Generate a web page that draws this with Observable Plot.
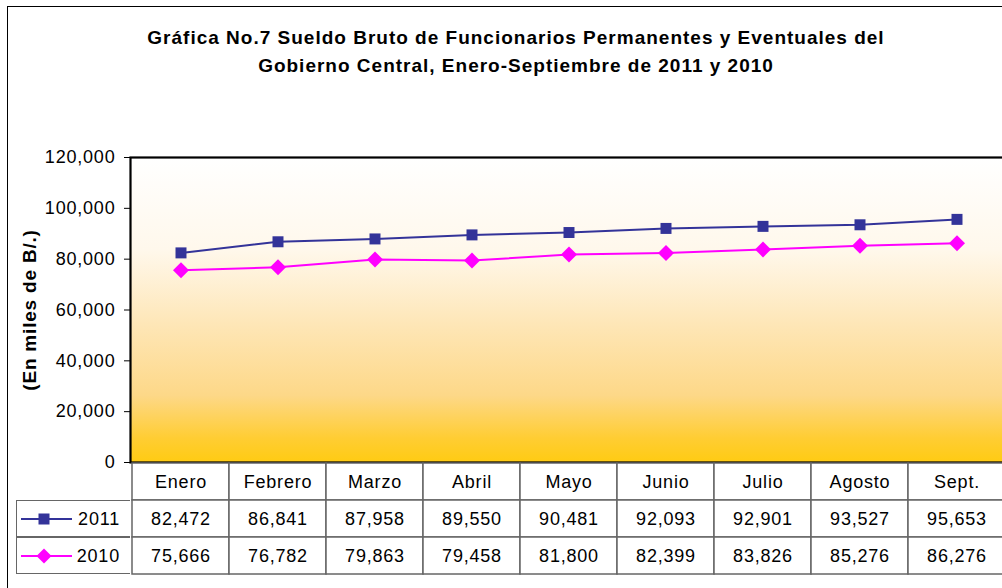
<!DOCTYPE html>
<html><head><meta charset="utf-8">
<script src="https://cdn.jsdelivr.net/npm/d3@7"></script>
<script src="https://cdn.jsdelivr.net/npm/@observablehq/plot@0.6"></script>
<style>
html,body{margin:0;padding:0;background:#fff;overflow:hidden;width:1002px;height:588px}
body{font-family:"Liberation Sans",Arial,sans-serif;position:relative;color:#000}
#frame{position:absolute;left:7px;top:6px;width:1100px;height:700px;border:1.5px solid #000;box-sizing:border-box}
#title{position:absolute;left:0;width:1032px;top:24px;text-align:center;font-weight:bold;font-size:19px;letter-spacing:1px;line-height:28px}
#ylabel{position:absolute;left:30px;top:310px;transform:translate(-50%,-50%) rotate(-90deg);font-weight:bold;font-size:19px;letter-spacing:0.8px;white-space:nowrap}
#chart{position:absolute;left:0;top:0}
#table{position:absolute;left:0;top:462px}
.leg{position:absolute;left:16px;width:114px;box-sizing:border-box;border:1.5px solid #666;border-right:none;background:#fff}
.leg svg{position:absolute;left:3px;top:50%;transform:translateY(-50%)}
.leg span{position:absolute;right:10px;top:50%;transform:translateY(-50%);font-size:18px;letter-spacing:0.8px}
svg text{letter-spacing:0.8px}
</style></head>
<body>
<div id="frame"></div>
<div id="title">Gráfica No.7 Sueldo Bruto de Funcionarios Permanentes y Eventuales del<br>Gobierno Central, Enero-Septiembre de 2011 y 2010</div>
<div id="ylabel">(En miles de B/.)</div>
<div id="chart"></div>
<div id="table"></div>
<script>
const months = ["Enero","Febrero","Marzo","Abril","Mayo","Junio","Julio","Agosto","Sept."];
const values2011 = [82472, 86841, 87958, 89550, 90481, 92093, 92901, 93527, 95653];
const values2010 = [75666, 76782, 79863, 79458, 81800, 82399, 83826, 85276, 86276];
const years = ["2011", "2010"];
const yTicks = [0, 20000, 40000, 60000, 80000, 100000, 120000];
const colors = {"2011": "#333399", "2010": "#FF00FF"};
const symbols = {"2011": "square", "2010": "diamond2"};
const radii = {"2011": 6.2, "2010": 7.2};

const series = {"2011": values2011, "2010": values2010};
const data = years.flatMap(yr => months.map((m, i) => ({year: yr, month: m, value: series[yr][i]})));

const fmt = d3.format(",");
const W = 1010;

const defs = () => {
  const d = d3.create("svg:defs");
  const g = d.append("linearGradient").attr("id", "bg").attr("x1", 0).attr("y1", 0).attr("x2", 0).attr("y2", 1);
  [[0, "#FFFFFF"], [0.3, "#FFF8EC"], [0.55, "#FEE6B6"], [0.78, "#FDD888"], [0.92, "#FFCD33"], [1, "#FFCB12"]]
    .forEach(([o, c]) => g.append("stop").attr("offset", o).attr("stop-color", c));
  return d.node();
};

const chart = Plot.plot({
  width: W, height: 465,
  marginTop: 157, marginBottom: 3, marginLeft: 130, marginRight: 3,
  style: {maxWidth: "none", overflow: "visible", fontFamily: "'Liberation Sans', Arial, sans-serif", fontSize: "18px", background: "transparent"},
  x: {type: "band", domain: months, padding: 0, axis: null},
  y: {domain: [0, 120000], axis: null},
  marks: [
    defs,
    Plot.frame({fill: "url(#bg)"}),
    Plot.axisY({ticks: yTicks, tickFormat: fmt, tickSize: 6, tickPadding: 9, fontSize: 18, stroke: "#000", fill: "#000", label: null}),
    Plot.line(data, {x: "month", y: "value", z: "year", stroke: d => colors[d.year], strokeWidth: 2}),
    ...years.map(yr => Plot.dot(data.filter(d => d.year === yr), {x: "month", y: "value", symbol: symbols[yr], r: radii[yr], fill: colors[yr], stroke: "none"})),
    Plot.frame({stroke: "#000", strokeWidth: 2.2})
  ]
});
document.getElementById("chart").appendChild(chart);

const rows = ["header", ...years];
const cells = [
  ...months.map(m => ({row: "header", month: m, text: m})),
  ...data.map(d => ({row: d.year, month: d.month, text: fmt(d.value)}))
];
const table = Plot.plot({
  width: W, height: 113,
  marginTop: 0, marginBottom: 0, marginLeft: 130, marginRight: 3,
  style: {maxWidth: "none", overflow: "visible", fontFamily: "'Liberation Sans', Arial, sans-serif", fontSize: "18px", background: "transparent"},
  x: {type: "band", domain: months, padding: 0, axis: null},
  y: {type: "band", domain: rows, padding: 0, axis: null},
  marks: [
    Plot.cell(cells, {x: "month", y: "row", fill: "#fff", stroke: "#666", strokeWidth: 1.5, inset: 0}),
    Plot.text(cells, {x: "month", y: "row", text: "text", fontSize: 18, fill: "#000"})
  ]
});
document.getElementById("table").appendChild(table);

// legend cells aligned with the table rows
const ys = table.scale("y");
const tableDiv = document.getElementById("table");
years.forEach(yr => {
  const top = ys.apply(yr), h = ys.bandwidth;
  const div = document.createElement("div");
  div.className = "leg";
  div.style.top = top + "px";
  div.style.height = h + "px";
  const c = colors[yr];
  const marker = yr === "2011"
    ? `<rect x="${24-5.5}" y="${10-5.5}" width="11" height="11" fill="${c}"/>`
    : `<path d="M24,2.5 L31.5,10 L24,17.5 L16.5,10 Z" fill="${c}"/>`;
  div.innerHTML = `<svg width="56" height="20"><line x1="1" x2="52" y1="10" y2="10" stroke="${c}" stroke-width="2"/>${marker}</svg><span>${yr}</span>`;
  tableDiv.appendChild(div);
});
</script>
</body></html>
